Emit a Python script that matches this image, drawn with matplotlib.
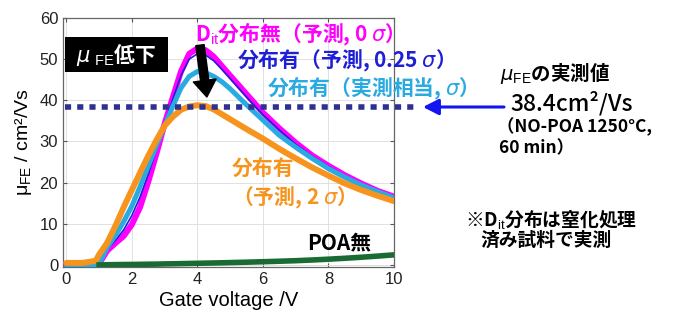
import numpy as np
import matplotlib
matplotlib.use("Agg")
import matplotlib.pyplot as plt
from matplotlib.patches import Rectangle

plt.rcParams['font.family'] = ['Liberation Sans', 'Noto Sans CJK JP', 'DejaVu Sans']
plt.rcParams['mathtext.fontset'] = 'custom'
plt.rcParams['mathtext.rm'] = 'Liberation Sans'
plt.rcParams['mathtext.it'] = 'DejaVu Sans:italic'

JP = ['Noto Sans CJK JP', 'DejaVu Sans']

# ---- data: field-effect mobility vs gate voltage ----
vg = [0, 0.5, 0.9, 1.0, 1.25, 1.5, 1.75, 2.0, 2.25, 2.5, 2.75, 3.0, 3.25, 3.5, 3.75,
      4.0, 4.25, 4.5, 4.75, 5.0, 5.5, 6.0, 6.5, 7.0, 7.5, 8.0, 8.5, 9.0, 9.5, 10.0]

mu_0sigma = [0, 0, 0, 0.3, 3.5, 5.3, 7.0, 9.8, 14.0, 20.2, 27.0, 34.3, 40.7, 47.0, 51.3,
             52.6, 52.2, 50.6, 48.3, 46.0, 41.5, 37.0, 33.2, 29.7, 26.6, 24.1, 21.8, 19.8, 18.0, 16.6]
mu_025sigma = [0, 0, 0, 0.3, 3.8, 6.0, 8.5, 12.0, 16.5, 22.0, 28.0, 34.3, 40.3, 46.0, 50.0,
               51.3, 51.0, 49.6, 47.5, 45.3, 40.8, 36.5, 32.8, 29.3, 26.4, 23.9, 21.6, 19.7, 18.0, 16.4]
mu_1sigma = [0, 0, 0, 0.3, 4.3, 7.2, 10.5, 14.3, 19.0, 24.0, 29.0, 33.8, 38.5, 43.0, 45.8,
             47.0, 46.7, 45.8, 44.5, 42.8, 38.9, 35.2, 31.5, 28.6, 25.9, 23.4, 21.3, 19.4, 17.8, 16.3]
mu_2sigma = [0.5, 0.5, 1.0, 2.5, 5.4, 9.5, 14.0, 18.2, 22.4, 26.5, 30.3, 33.8, 36.0, 37.7, 38.5,
             38.8, 38.6, 37.8, 36.6, 35.4, 33.0, 30.7, 28.2, 25.9, 23.7, 21.7, 19.8, 18.2, 16.8, 15.5]
mu_no_poa = [np.nan, np.nan, np.nan, 0, 0.05, 0.08, 0.1, 0.12, 0.15, 0.18, 0.2, 0.25, 0.28, 0.32, 0.36,
             0.4, 0.44, 0.48, 0.52, 0.57, 0.67, 0.78, 0.9, 1.03, 1.2, 1.4, 1.62, 1.87, 2.15, 2.45]

mu_measured = 38.4
ref_x = [-0.05, 10.7]

fig = plt.figure(figsize=(6.73, 3.2), dpi=100)
ax = fig.add_axes([63 / 673, 1 - 267 / 320, 331 / 673, 249 / 320])

ax.plot(vg, mu_0sigma, color='#ff00ff', lw=4.3, solid_capstyle='round', zorder=3)
ax.plot(vg, mu_025sigma, color='#1f1fd8', lw=1.2, zorder=3.2)
ax.plot(vg, mu_1sigma, color='#29abe2', lw=3.6, solid_capstyle='round', zorder=3.4)
ax.plot(vg, mu_2sigma, color='#f7941d', lw=4.3, solid_capstyle='round', zorder=3.6)
ax.plot(vg, mu_no_poa, color='#1a6b33', lw=4.0, zorder=3.8)

# measured value reference line
ax.plot(ref_x, [mu_measured, mu_measured], color='#2e3192', lw=4,
        linestyle=(0, (1.1, 1.1)), clip_on=False, zorder=4)

ax.set_xlim(-0.1, 10)
ax.set_ylim(-0.5, 60)
ax.set_xticks(range(0, 11, 2))
ax.set_yticks(range(0, 61, 10))
ax.tick_params(direction='in', top=True, right=True, labelsize=12,
               labelcolor='#222222', length=3, color='#555555')
ax.grid(True, color='#dcdcdc', lw=0.6)
for s in ax.spines.values():
    s.set_color('#666666')
    s.set_linewidth(0.9)

ax.set_xlabel('Gate voltage /V', fontsize=14.5, labelpad=3)
ax.set_ylabel('μ$_{\\rm FE}$ / cm²/Vs', fontsize=14, labelpad=4)

# curve labels
ax.text(3.93, 55.9, 'D$_{\\rm it}$分布無（予測, 0 $\\sigma$）', color='#ff00ff',
        family=JP, fontsize=15, fontweight='bold', va='center', clip_on=False)
ax.text(5.21, 49.8, '分布有（予測, 0.25 $\\sigma$）', color='#1f1fd8',
        family=JP, fontsize=15, fontweight='bold', va='center', clip_on=False)
ax.text(6.12, 43.0, '分布有（実測相当, $\\sigma$）', color='#29abe2',
        family=JP, fontsize=15, fontweight='bold', va='center', clip_on=False)
ax.text(5.06, 23.6, '分布有', color='#f7941d',
        family=JP, fontsize=15, fontweight='bold', va='center')
ax.text(5.06, 16.3, '（予測, 2 $\\sigma$）', color='#f7941d',
        family=JP, fontsize=15, fontweight='bold', va='center')
ax.text(7.34, 5.3, 'POA無', color='black',
        family=JP, fontsize=15, fontweight='bold', va='center')

# arrow showing the mobility drop
ax.annotate('', xy=(4.29, 40.8), xytext=(4.08, 53.4),
            arrowprops=dict(arrowstyle='simple,head_length=1.2,head_width=1.65,tail_width=0.6',
                            color='black', mutation_scale=10, shrinkA=0, shrinkB=0),
            zorder=6)

# black tag box
fig.patches.append(Rectangle((65 / 673, 1 - 72 / 320), 103 / 673, 35 / 320,
                             transform=fig.transFigure, facecolor='black',
                             edgecolor='none', zorder=5))
fig.text(116 / 673, 1 - 55 / 320, '$\\mu$ $_{\\rm FE}$低下', color='white',
         family=JP, fontsize=15, fontweight='bold', ha='center', va='center', zorder=6)

# measured value note and arrow
ax.annotate('', xy=(423, 213), xycoords='figure pixels', xytext=(504, 213),
            textcoords='figure pixels',
            arrowprops=dict(arrowstyle='-|>,head_length=0.47,head_width=0.24',
                            color='#1414f0', lw=2.2, mutation_scale=20,
                            shrinkA=0, shrinkB=0))
fig.text(500 / 673, 1 - 73 / 320, '$\\mu$$_{\\rm FE}$の実測値', family=JP,
         fontsize=14, fontweight='bold', va='center')
fig.text(510 / 673, 1 - 103 / 320, '38.4cm²/Vs', family=JP,
         fontsize=16.5, fontweight='medium', va='center')
fig.text(497 / 673, 1 - 127 / 320, '（NO-POA 1250°C,', family=JP,
         fontsize=12.5, fontweight='bold', va='center')
fig.text(499 / 673, 1 - 148 / 320, '60 min）', family=JP,
         fontsize=12.5, fontweight='bold', va='center')

fig.text(465 / 673, 1 - 220 / 320, '※D$_{\\rm it}$分布は窒化処理', family=JP,
         fontsize=13.5, fontweight='bold', va='center')
fig.text(480 / 673, 1 - 240 / 320, '済み試料で実測', family=JP,
         fontsize=13.5, fontweight='bold', va='center')

fig.savefig('out.png', dpi=100)
